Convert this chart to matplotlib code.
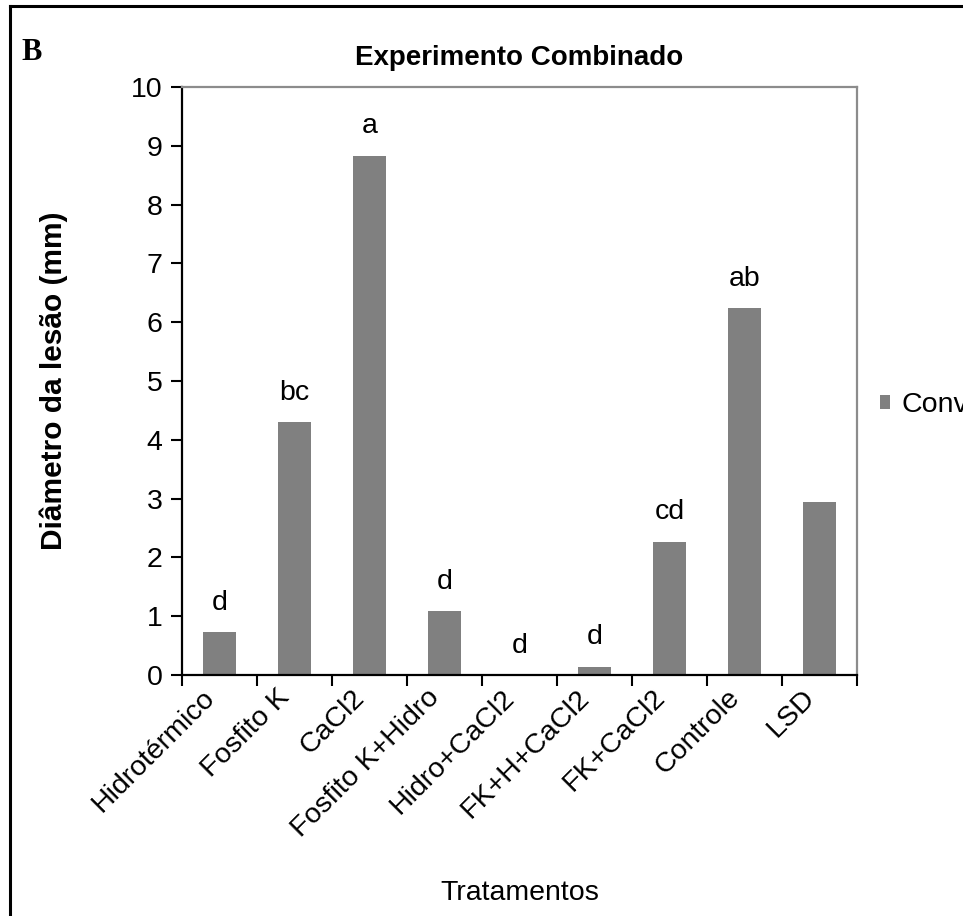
import matplotlib
matplotlib.use("Agg")
import matplotlib.pyplot as plt
from matplotlib.lines import Line2D
from matplotlib.transforms import ScaledTranslation
import numpy as np

plt.rcParams['font.family'] = ['Liberation Sans', 'DejaVu Sans']

# Treatments, mean lesion diameter (mm) and significance letters
tratamentos = ["Hidrotérmico", "Fosfito K", "CaCl2", "Fosfito K+Hidro",
               "Hidro+CaCl2", "FK+H+CaCl2", "FK+CaCl2", "Controle", "LSD"]
diametro = [0.73, 4.30, 8.83, 1.09, 0.0, 0.14, 2.27, 6.24, 2.94]
letras = ["d", "bc", "a", "d", "d", "d", "cd", "ab", ""]
serie = "Convencional"
yticks = list(range(0, 11))

FS = 20.5
W, H = 963, 916
fig = plt.figure(figsize=(W / 100, H / 100), dpi=100)
ax = fig.add_axes([182 / W, 1 - 675 / H, 675 / W, 588 / H])

x = np.arange(len(tratamentos)) + 0.5
bars = ax.bar(x, diametro, width=0.43, color="#808080", zorder=2)

for xi, v, l in zip(x, diametro, letras):
    if l:
        ax.text(xi, v + 0.5, l, ha="center", va="center", fontsize=FS)

ax.set_xlim(0, len(tratamentos))
ax.set_ylim(0, 10)
ax.set_yticks(yticks)
ax.set_yticklabels([str(t) for t in yticks], fontsize=FS)
ax.set_xticks(np.arange(len(tratamentos) + 1))
ax.set_xticklabels([])
ax.set_xticks(x, minor=True)
ax.set_xticklabels(tratamentos, minor=True, rotation=45, ha="right",
                   rotation_mode="anchor", fontsize=FS)
ax.tick_params(axis="x", which="minor", length=0, pad=7)
ax.tick_params(axis="both", which="major", direction="out", length=8,
               width=1.5, color="black")
ax.tick_params(axis="y", pad=6)

# nudge the slanted category labels to sit left of the bar centres
shift = ScaledTranslation(-0.18, 0, fig.dpi_scale_trans)
for lab in ax.get_xticklabels(minor=True):
    lab.set_transform(lab.get_transform() + shift)

for side in ("left", "bottom"):
    ax.spines[side].set_color("black")
    ax.spines[side].set_linewidth(1.6)
for side in ("top", "right"):
    ax.spines[side].set_color("#8c8c8c")
    ax.spines[side].set_linewidth(1.6)

ax.set_ylabel("Diâmetro da lesão (mm)", fontsize=21.5, fontweight="bold")
ax.yaxis.set_label_coords(-0.19, 0.5)
ax.yaxis.label.set_va("center")
ax.set_xlabel("Tratamentos", fontsize=FS)
ax.xaxis.set_label_coords(0.5, -0.371)
ax.xaxis.label.set_va("center")

ax.set_title("Experimento Combinado", fontsize=20, fontweight="bold", pad=16)

ax.legend([bars], [serie], loc="center left", bbox_to_anchor=(880 / W, 1 - 405 / H),
          bbox_transform=fig.transFigure, frameon=False, fontsize=FS,
          handlelength=0.36, handleheight=0.36, handletextpad=0.4,
          borderpad=0, borderaxespad=0)

fig.text(32 / W, 1 - 52 / H, "B", fontsize=22, fontweight="bold",
         family="Liberation Serif", ha="center", va="center")

# Panel frame (top and left edges)
fig.add_artist(Line2D([10 / W, 1], [1 - 5.5 / H, 1 - 5.5 / H], color="black",
                      lw=2.2, transform=fig.transFigure))
fig.add_artist(Line2D([10 / W, 10 / W], [0, 1 - 5.5 / H], color="black",
                      lw=2.2, transform=fig.transFigure))

fig.savefig("out.png", dpi=100)
